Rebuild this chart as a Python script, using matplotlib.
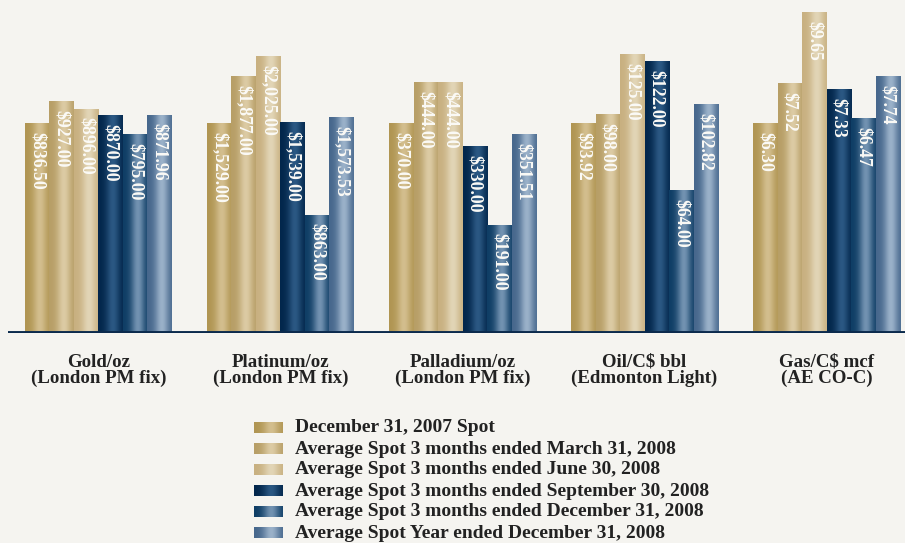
import numpy as np
import matplotlib.pyplot as plt
from matplotlib.colors import to_rgb

# commodity groups and series
categories = ["Gold/oz\n(London PM fix)", "Platinum/oz\n(London PM fix)",
              "Palladium/oz\n(London PM fix)", "Oil/C$ bbl\n(Edmonton Light)",
              "Gas/C$ mcf\n(AE CO-C)"]
series_names = ["December 31, 2007 Spot",
                "Average Spot 3 months ended March 31, 2008",
                "Average Spot 3 months ended June 30, 2008",
                "Average Spot 3 months ended September 30, 2008",
                "Average Spot 3 months ended December 31, 2008",
                "Average Spot Year ended December 31, 2008"]
gold = [836.50, 927.00, 896.00, 870.00, 795.00, 871.96]
platinum = [1529.00, 1877.00, 2025.00, 1539.00, 863.00, 1573.53]
palladium = [370.00, 444.00, 444.00, 330.00, 191.00, 351.51]
oil = [93.92, 98.00, 125.00, 122.00, 64.00, 102.82]
gas = [6.30, 7.52, 9.65, 7.33, 6.47, 7.74]
groups = [gold, platinum, palladium, oil, gas]

# (edge colour, highlight colour) for each series
shades = [("#b09552", "#d3be8e"), ("#b79e66", "#dccba4"), ("#c8b080", "#e2d5b6"),
          ("#02264b", "#2b5883"), ("#0e3d65", "#7292b1"), ("#46678c", "#9ab1c9")]

bg = "#f5f4f0"
serif = "Liberation Serif"


def gradient(edge, hi, n=64):
    t = np.linspace(0, 1, n)
    f = np.exp(-((t - 0.6) / 0.28) ** 2)
    e, h = np.array(to_rgb(edge)), np.array(to_rgb(hi))
    row = e[None, :] + (h - e)[None, :] * f[:, None]
    return row[None, :, :]


fig = plt.figure(figsize=(9.05, 5.43), dpi=100, facecolor=bg)
ax = fig.add_axes([8 / 905, 1 - 333 / 543, 897 / 905, 333 / 543])
ax.set_facecolor(bg)

width = 0.1346
x = np.arange(len(categories))
for s in range(len(series_names)):
    # each commodity is scaled relative to its year-end 2007 spot price
    vals = [g[s] / g[0] for g in groups]
    bars = ax.bar(x + (s - 2.5) * width, vals, width, color="none", zorder=2)
    img = gradient(*shades[s])
    for b, g in zip(bars, groups):
        x0, h = b.get_x(), b.get_height()
        ax.imshow(img, extent=(x0, x0 + width, 0, h), aspect="auto",
                  interpolation="bilinear", zorder=1)
        ax.text(x0 + width / 2, h - 0.04, f"${g[s]:,.2f}", rotation=-90,
                ha="center", va="top", color="#fbfaf6", fontsize=12.8,
                fontweight="bold", family=serif, zorder=3)

ax.set_xlim(-0.497, 4.431)
ax.set_ylim(0, 1.593)
ax.axhline(0, color="#0b2a4d", lw=2.8, zorder=4)
for side in ax.spines.values():
    side.set_visible(False)
ax.set_xticks(x)
ax.set_xticklabels(categories, fontsize=13.6, fontweight="bold", family=serif,
                   color="#222222", linespacing=0.95)
ax.tick_params(axis="x", length=0, pad=15)
ax.set_yticks([])

# legend drawn by hand so the swatches keep the bar shading
lg = fig.add_axes([0, 0, 1, 1], facecolor="none")
lg.set_xlim(0, 905)
lg.set_ylim(543, 0)
lg.axis("off")
for s, name in enumerate(series_names):
    yc = 428 + s * 21
    lg.imshow(gradient(*shades[s]), extent=(254, 283, yc + 5.5, yc - 5.5),
              aspect="auto", interpolation="bilinear")
    lg.text(295, yc, name, va="center", ha="left", fontsize=14,
            fontweight="bold", family=serif, color="#222222")

fig.savefig("out.png", dpi=100, facecolor=bg)
